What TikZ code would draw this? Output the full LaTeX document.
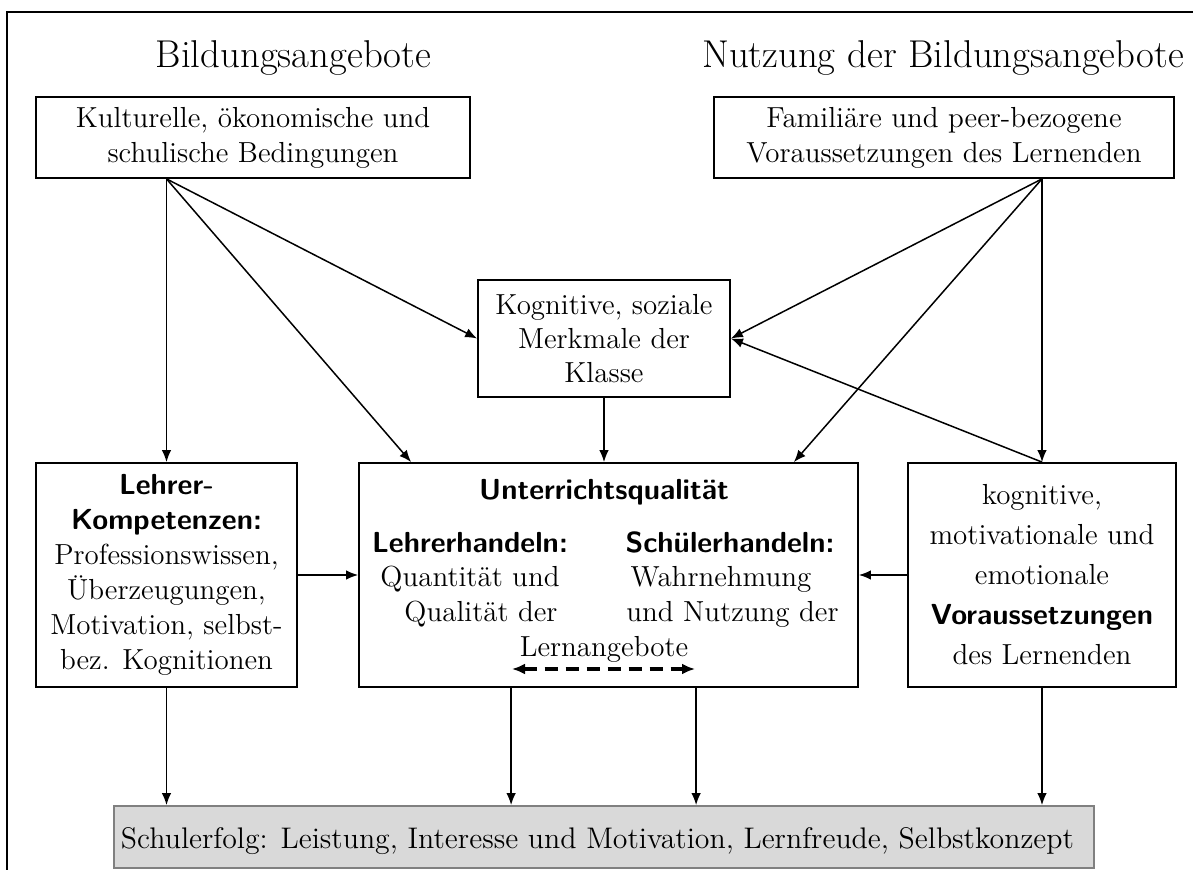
\documentclass[tikz,border=0pt]{standalone}
\usepackage{fontspec}
\usetikzlibrary{arrows.meta,calc}
\newcommand\dgbody{\fontsize{14.5}{17.5}\selectfont}
\newcommand\dgtitle{\fontsize{19.4}{23}\selectfont}
\newcommand\hl[1]{{\sffamily\bfseries #1}}
\begin{document}
\begin{tikzpicture}[x=0.5pt,y=-0.5pt,
  box/.style={draw,line width=0.9pt,inner sep=2pt,align=center,font=\dgbody},
  txt/.style={inner sep=0pt,anchor=base,font=\dgbody},
  conn/.style={line width=0.75pt,-{Latex[length=6pt,width=4.8pt]}},
  both/.style={line width=1.7pt,dash pattern=on 6.5pt off 4pt,
    {Latex[length=6.5pt,width=5.5pt]}-{Latex[length=6.5pt,width=5.5pt]}}]
\useasboundingbox (0,0) rectangle (1193,870);
% outer frame
\draw[line width=0.65pt] (1193,12) -- (7,12) -- (7,870);

% column headings
\node[txt,font=\dgtitle] (h1) at (293.5,68) {Bildungsangebote};
\node[txt,font=\dgtitle] (h2) at (943,68) {Nutzung der Bildungsangebote};

% boxes
\node[box,minimum width=217pt,minimum height=40.5pt] (b1) at (253,137.5)
  {Kulturelle, ökonomische und\\schulische Bedingungen};
\node[box,minimum width=230pt,minimum height=40.5pt] (b2) at (944,137.5)
  {Familiäre und peer-bezogene\\Voraussetzungen des Lernenden};
\node[box,minimum width=126pt,minimum height=58.5pt,
  font=\fontsize{14.5}{17}\selectfont] (b3) at (604,338.5)
  {Kognitive, soziale\\Merkmale der\\Klasse};
\node[box,minimum width=130.5pt,minimum height=112pt] (b4) at (166.5,575)
  {\hl{Lehrer-}\\\hl{Kompetenzen:}\\Professionswissen,\\Überzeugungen,\\Motivation, selbst-\\bez. Kognitionen};
\node[box,minimum width=249.5pt,minimum height=112pt] (b5) at (608.5,575) {};
\node[box,minimum width=134pt,minimum height=112pt,
  font=\fontsize{14.5}{20}\selectfont] (b6) at (1042,575)
  {kognitive,\\motivationale und\\emotionale\\\hl{Voraussetzungen}\\des Lernenden};
\node[box,draw=black!50,fill=black!15,minimum width=490pt,minimum height=31pt] (b7) at (604,837) {};
\node[txt,font=\fontsize{14.9}{18}\selectfont] (b7t) at (597.5,848)
  {Schulerfolg: Leistung, Interesse und Motivation, Lernfreude, Selbstkonzept};

% contents of the teaching quality box
\node[txt] (uq) at (604,500) {\hl{Unterrichtsqualität}};
\node[txt] (lh) at (470,553) {\hl{Lehrerhandeln:}};
\node[txt] (lh1) at (470,587) {Quantität und};
\node[txt] (lh2) at (481,622) {Qualität der};
\node[txt] (sh) at (730,553) {\hl{Schülerhandeln:}};
\node[txt] (sh1) at (721,587) {Wahrnehmung};
\node[txt] (sh2) at (732.5,622) {und Nutzung der};
\node[txt] (la) at (604,656) {Lernangebote};
\coordinate (dl) at (512,669);
\coordinate (dr) at (695,669);
\draw[both] (dl) -- (dr);

% connectors
\coordinate (o1) at (b1.south -| b4.north);
\coordinate (o2) at (b2.south -| b6.north);
\draw[conn] (o1) -- (b4.north);
\draw[conn] (o1) -- ([xshift=26.5pt]b5.north west);
\draw[conn] (o1) -- (b3.west);
\draw[conn] (o2) -- (b6.north);
\draw[conn] (o2) -- ([xshift=-32.5pt]b5.north east);
\draw[conn] (o2) -- (b3.east);
\draw[conn] (b6.north) -- (b3.east);
\draw[conn] (b3.south) -- (b3.south |- b5.north);
\draw[conn] (b4.east) -- (b5.west);
\draw[conn] (b6.west) -- (b5.east);
\draw[conn] (b4.south) -- (b4.south |- b7.north);
\coordinate (u1) at ([xshift=76.5pt]b5.south west);
\coordinate (u2) at ([xshift=169pt]b5.south west);
\draw[conn] (u1) -- (u1 |- b7.north);
\draw[conn] (u2) -- (u2 |- b7.north);
\draw[conn] (b6.south) -- (b6.south |- b7.north);
\end{tikzpicture}
\end{document}
